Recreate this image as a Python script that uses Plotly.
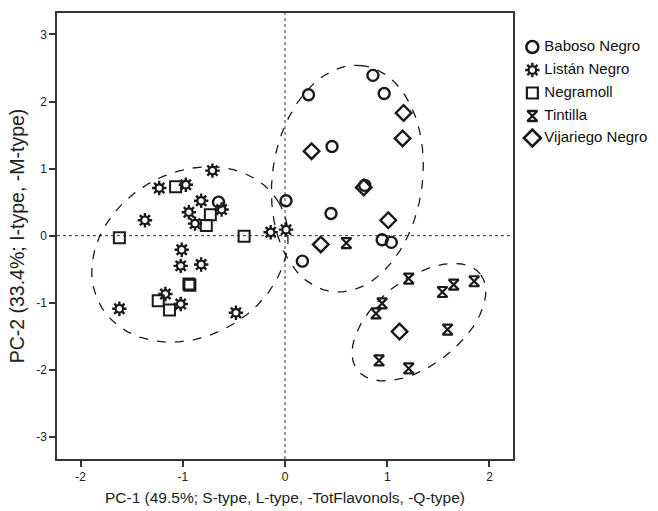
import numpy as np
import plotly.graph_objects as go

# PCA scores per grape variety
baboso_x = [0.86, 0.23, 0.97, 0.46, 0.78, 0.01, 0.45, 0.95, 1.04, 0.17, -0.65]
baboso_y = [2.39, 2.10, 2.12, 1.33, 0.75, 0.52, 0.33, -0.06, -0.10, -0.38, 0.50]
listan_x = [-0.71, -1.23, -0.97, -0.82, -0.62, -0.94, -0.88, -1.37, -0.14, 0.01,
            -1.01, -1.02, -0.82, -1.17, -1.02, -1.62, -0.48]
listan_y = [0.97, 0.71, 0.76, 0.52, 0.39, 0.35, 0.18, 0.23, 0.05, 0.09,
            -0.21, -0.45, -0.43, -0.87, -1.02, -1.09, -1.15]
negramoll_x = [-1.07, -0.73, -0.77, -1.62, -0.40, -0.94, -0.93, -1.24, -1.13]
negramoll_y = [0.73, 0.31, 0.15, -0.03, -0.01, -0.72, -0.74, -0.97, -1.11]
tintilla_x = [0.60, 1.21, 1.54, 1.65, 1.85, 0.95, 0.89, 1.59, 0.92, 1.21]
tintilla_y = [-0.11, -0.64, -0.84, -0.73, -0.68, -1.01, -1.16, -1.40, -1.86, -1.98]
vijariego_x = [1.16, 1.15, 0.26, 0.77, 1.01, 0.35, 1.12]
vijariego_y = [1.83, 1.45, 1.26, 0.72, 0.23, -0.13, -1.43]

variety_names = ["Baboso Negro", "Listán Negro", "Negramoll", "Tintilla", "Vijariego Negro"]
x_ticks = [-2, -1, 0, 1, 2]
y_ticks = [-3, -2, -1, 0, 1, 2, 3]

# group ellipses: centre (data units), semi-axes and tilt in screen space
ellipses = [
    dict(cx=-0.93, cy=-0.28, a=103, b=82, angle=30),
    dict(cx=0.61, cy=0.85, a=114, b=75, angle=82),
    dict(cx=1.31, cy=-1.29, a=78, b=43, angle=38),
]

X_RANGE = [-2.23, 2.23]
Y_RANGE = [-3.33, 3.32]
W, H = 658, 511
M_L, M_R, M_T, M_B = 57, 0, 13, 52
PLOT_W = 456
PLOT_H = H - M_T - M_B
px_per_x = PLOT_W / (X_RANGE[1] - X_RANGE[0])
px_per_y = PLOT_H / (Y_RANGE[1] - Y_RANGE[0])

INK = "#1a1a1a"
FONT = "Liberation Sans, Arial, sans-serif"

fig = go.Figure()

# dashed group ellipses
t = np.linspace(0, 2 * np.pi, 400)
for e in ellipses:
    th = np.deg2rad(e["angle"])
    u = e["a"] * np.cos(t) * np.cos(th) - e["b"] * np.sin(t) * np.sin(th)
    v = e["a"] * np.cos(t) * np.sin(th) + e["b"] * np.sin(t) * np.cos(th)
    fig.add_trace(go.Scatter(
        x=e["cx"] + u / px_per_x, y=e["cy"] + v / px_per_y,
        mode="lines", line=dict(color=INK, width=1.3, dash="dash"),
        hoverinfo="skip", showlegend=False, xaxis="x", yaxis="y"))


def gear(xs, ys, xa="x", ya="y"):
    """Listán Negro glyph: spiked dark ring with a light centre."""
    return [
        go.Scatter(x=xs, y=ys, mode="markers", xaxis=xa, yaxis=ya,
                   marker=dict(symbol="asterisk-open", size=12, color=INK,
                               line=dict(color=INK, width=2.4)),
                   showlegend=False, hoverinfo="skip", cliponaxis=False),
        go.Scatter(x=xs, y=ys, mode="markers", xaxis=xa, yaxis=ya,
                   marker=dict(symbol="circle", size=7.5, color="white",
                               line=dict(color=INK, width=2.2)),
                   showlegend=False, hoverinfo="skip", cliponaxis=False),
    ]


def open_marker(xs, ys, symbol, size, width, xa="x", ya="y"):
    return go.Scatter(x=xs, y=ys, mode="markers", xaxis=xa, yaxis=ya,
                      marker=dict(symbol=symbol, size=size, color=INK,
                                  line=dict(color=INK, width=width)),
                      showlegend=False, hoverinfo="skip", cliponaxis=False)


# data points
fig.add_traces(gear(listan_x, listan_y))
fig.add_trace(open_marker(negramoll_x, negramoll_y, "square-open", 11, 2))
fig.add_trace(open_marker(tintilla_x, tintilla_y, "hourglass-open", 10, 2.2))
fig.add_trace(open_marker(vijariego_x, vijariego_y, "diamond-open", 12, 2.4))
fig.add_trace(open_marker(baboso_x, baboso_y, "circle-open", 11, 2.4))

# legend panel on its own axis (units: pixels from top-left of the panel)
leg_rows = [34, 57, 80, 103, 125]
leg_x = 17
fig.add_trace(open_marker([leg_x], [leg_rows[0]], "circle-open", 12, 2.6, "x2", "y2"))
fig.add_traces(gear([leg_x], [leg_rows[1]], "x2", "y2"))
fig.add_trace(open_marker([leg_x], [leg_rows[2]], "square-open", 11, 2.2, "x2", "y2"))
fig.add_trace(open_marker([leg_x], [leg_rows[3]], "hourglass-open", 10, 2.4, "x2", "y2"))
fig.add_trace(open_marker([leg_x], [leg_rows[4]], "diamond-open", 13, 2.6, "x2", "y2"))
fig.add_trace(go.Scatter(
    x=[leg_x + 12] * 5, y=leg_rows, mode="text", text=variety_names,
    textposition="middle right", xaxis="x2", yaxis="y2",
    textfont=dict(family=FONT, size=15, color="#111"),
    showlegend=False, hoverinfo="skip", cliponaxis=False))

# dotted reference lines through the origin
dom_main = PLOT_W / (W - M_L - M_R)
fig.add_shape(type="line", xref="x", yref="paper", x0=0, x1=0, y0=0, y1=1,
              line=dict(color="#333", width=1, dash="dot"), layer="below")
fig.add_shape(type="line", xref="paper", yref="y", x0=0, x1=dom_main,
              y0=0, y1=0, line=dict(color="#333", width=1, dash="dot"), layer="below")

axis_common = dict(showgrid=False, zeroline=False, showline=True, mirror=True,
                   linecolor="#333", linewidth=1.5, ticks="outside", ticklen=6,
                   tickwidth=1.5, tickcolor="#333",
                   tickfont=dict(family=FONT, size=12, color="#222"))

fig.update_layout(
    width=W, height=H,
    margin=dict(l=M_L, r=M_R, t=M_T, b=M_B),
    plot_bgcolor="white", paper_bgcolor="white",
    showlegend=False,
    xaxis=dict(domain=[0, dom_main], range=X_RANGE, tickvals=x_ticks,
               ticktext=[str(v) for v in x_ticks],
               title=dict(text="PC-1 (49.5%; S-type, L-type, -TotFlavonols, -Q-type)",
                          font=dict(family=FONT, size=15.5, color="#222"),
                          standoff=9),
               **axis_common),
    yaxis=dict(range=Y_RANGE, tickvals=y_ticks, ticktext=[str(v) for v in y_ticks],
               title=dict(text="PC-2 (33.4%; I-type, -M-type)",
                          font=dict(family=FONT, size=19.5, color="#222"), standoff=6),
               **axis_common),
    xaxis2=dict(domain=[dom_main + 0.004, 1], range=[0, W - M_L - PLOT_W - 2],
                visible=False, anchor="y2", fixedrange=True),
    yaxis2=dict(domain=[0, 1], range=[PLOT_H, 0], visible=False, anchor="x2",
                fixedrange=True),
)

fig.write_html("out.html")
